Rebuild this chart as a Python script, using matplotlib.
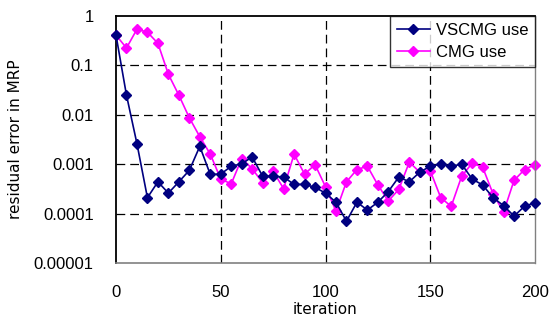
import matplotlib
matplotlib.use("Agg")
import matplotlib.pyplot as plt
from matplotlib.ticker import FixedLocator, FixedFormatter, NullLocator

# ------------------------------------------------------------------
# data (one point every 5 iterations)
# ------------------------------------------------------------------
iterations = list(range(0, 201, 5))

vscmg = [0.41, 0.025, 0.0026, 0.00021, 0.00044, 0.00026, 0.00044, 0.00075,
         0.0023, 0.00062, 0.00063, 0.00091, 0.00102, 0.0014, 0.00057, 0.00057,
         0.00055, 0.00039, 0.00039, 0.00034, 0.00026, 0.00017, 0.00007,
         0.00017, 0.000118, 0.00017, 0.00028, 0.00055, 0.00044, 0.00069,
         0.00091, 0.001, 0.00091, 0.001, 0.0005, 0.00038, 0.00021, 0.000145,
         0.000089, 0.000141, 0.000166]

cmg = [0.41, 0.225, 0.54, 0.47, 0.28, 0.066, 0.025, 0.0087, 0.0036, 0.0016,
       0.0005, 0.0004, 0.0013, 0.00081, 0.00042, 0.00072, 0.00032, 0.0016,
       0.00063, 0.00098, 0.00035, 0.000112, 0.00044, 0.00078, 0.00091,
       0.00038, 0.00018, 0.00031, 0.0011, 0.00069, 0.00074, 0.00021, 0.00014,
       0.00057, 0.00105, 0.00087, 0.00025, 0.000107, 0.00047, 0.00078,
       0.00098]

y_ticks = [1e-5, 1e-4, 1e-3, 1e-2, 1e-1, 1]
y_tick_labels = ["0.00001", "0.0001", "0.001", "0.01", "0.1", "1"]
x_ticks = [0, 50, 100, 150, 200]

# ------------------------------------------------------------------
W, H = 559, 320
fig = plt.figure(figsize=(W / 100, H / 100), dpi=100)
fig.patch.set_facecolor("white")
ax = fig.add_axes([116 / W, 1 - 263 / H, (535 - 116) / W, (263 - 16) / H])

ax.set_yscale("log")
ax.set_xlim(0, 200)
ax.set_ylim(1e-5, 1)

grid_kw = dict(color="black", linewidth=0.9, dashes=(7, 4), zorder=1)
for yv in y_ticks[1:-1]:
    ax.axhline(yv, **grid_kw)
for xv in x_ticks[1:-1]:
    ax.axvline(xv, **grid_kw)

ax.plot(iterations, vscmg, color="#000080", marker="D", markersize=5.5,
        linewidth=1.2, label="VSCMG use", zorder=3, clip_on=False)
ax.plot(iterations, cmg, color="#FF00FF", marker="D", markersize=5.5,
        linewidth=1.2, label="CMG use", zorder=2, clip_on=False)

ax.yaxis.set_major_locator(FixedLocator(y_ticks))
ax.yaxis.set_major_formatter(FixedFormatter(y_tick_labels))
ax.yaxis.set_minor_locator(NullLocator())
ax.set_xticks(x_ticks)
ax.tick_params(axis="both", length=0, labelsize=12)
ax.tick_params(axis="x", pad=16)
ax.tick_params(axis="y", pad=16)
for lab in ax.get_xticklabels() + ax.get_yticklabels():
    lab.set_fontfamily("Liberation Sans")

ax.set_xlabel("iteration", fontsize=11, labelpad=1)
ax.set_ylabel("residual error in MRP", fontsize=11, labelpad=8)

ax.spines["left"].set_color("black")
ax.spines["left"].set_linewidth(1.3)
ax.spines["top"].set_color("black")
ax.spines["top"].set_linewidth(1.3)
ax.spines["bottom"].set_color("#808080")
ax.spines["bottom"].set_linewidth(1.2)
ax.spines["right"].set_color("#808080")
ax.spines["right"].set_linewidth(1.0)

leg = ax.legend(loc="upper right", bbox_to_anchor=(1.0, 1.0), frameon=True,
                fancybox=False, borderaxespad=0, handlelength=2.0,
                prop={"family": "Liberation Sans", "size": 12},
                borderpad=0.4, labelspacing=0.45, handletextpad=0.35)
leg.get_frame().set_edgecolor("black")
leg.get_frame().set_linewidth(1.0)
leg.set_zorder(5)

fig.savefig("out.png", dpi=100, facecolor=fig.get_facecolor())
plt.close(fig)
